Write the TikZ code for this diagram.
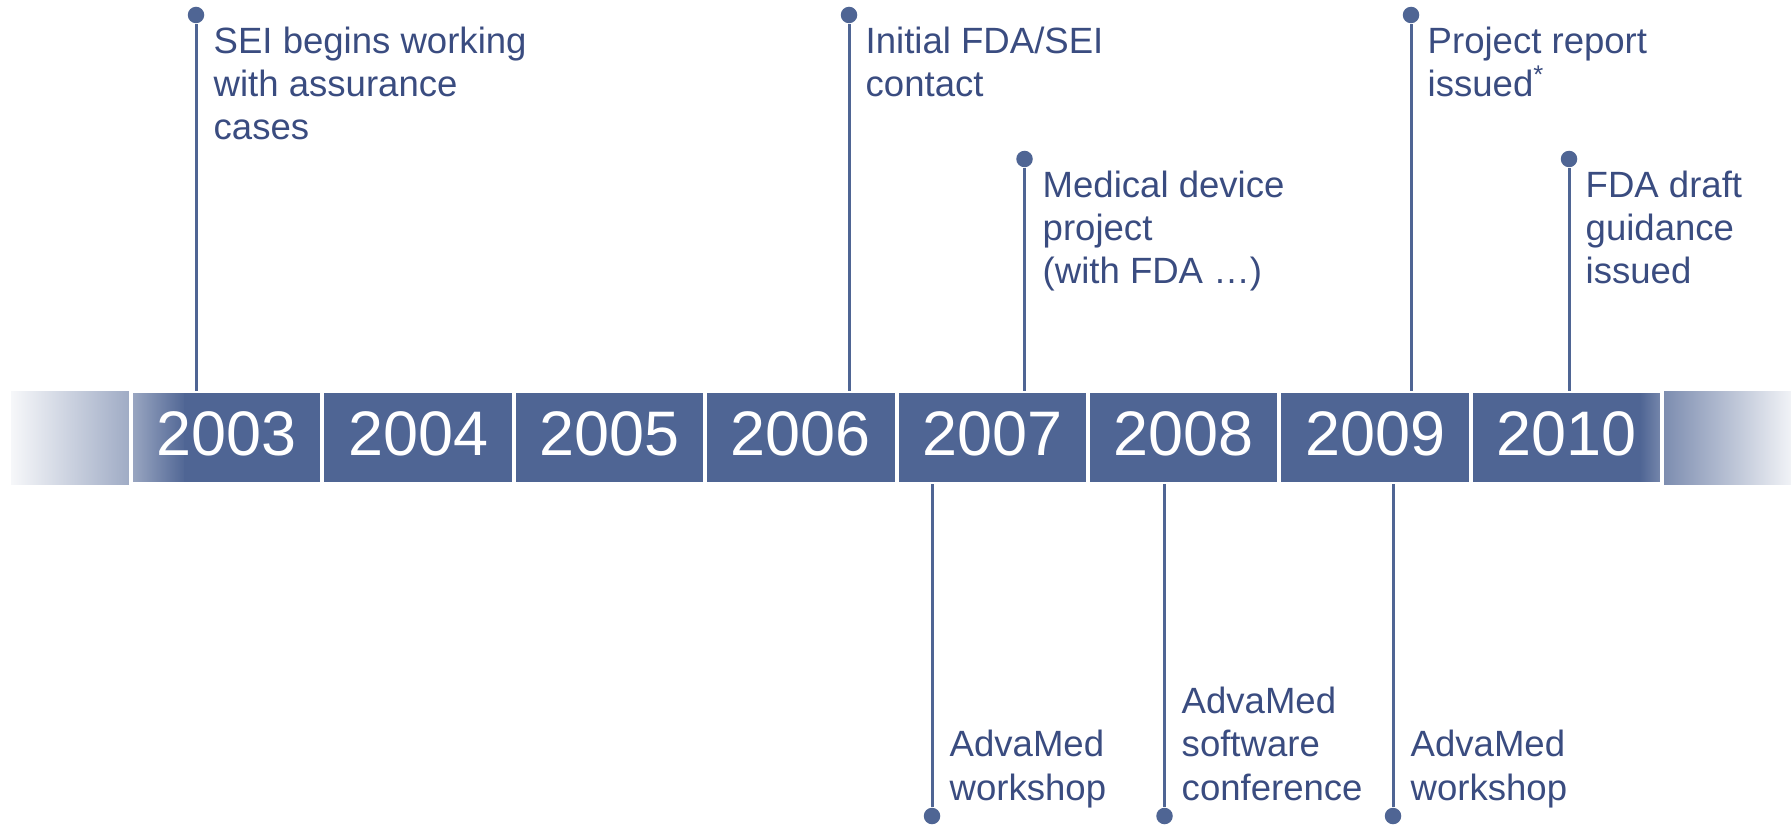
\documentclass[tikz,border=0pt]{standalone}
\usepackage{fontspec}
\setmainfont{Liberation Sans}
\definecolor{tlblue}{RGB}{79,101,148}
\definecolor{tltext}{RGB}{58,76,128}
\tikzset{
  dot/.style={circle, fill=tlblue, inner sep=0pt, minimum size=0.165cm},
  stem/.style={tlblue, line width=0.03cm},
  yearbox/.style={draw=white, line width=0.04cm, minimum width=1.914cm, minimum height=0.93cm,
    inner sep=0pt, outer sep=0pt, text=white, text depth=0.08cm, font=\fontsize{17.9pt}{20pt}\selectfont},
  toplabel/.style={anchor=north west, align=left, inner sep=0pt, text=tltext,
    font=\fontsize{10.4pt}{12.35pt}\selectfont},
  botlabel/.style={toplabel, anchor=base west}
}
\begin{document}
\begin{tikzpicture}
            \useasboundingbox (0,0) rectangle (17.91,8.25);
            % the bar, fading out at both ends
            \shade[left color=tlblue!5, right color=tlblue!55] (0.11,3.41) rectangle (1.31,4.34);
            \shade[left color=tlblue!55, right color=tlblue] (1.29,3.41) rectangle (1.86,4.34);
            \fill[tlblue] (1.84,3.41) rectangle (16.42,4.34);
            \shade[left color=tlblue, right color=tlblue!75] (16.40,3.41) rectangle (16.64,4.34);
            \shade[left color=tlblue!75, right color=tlblue!8] (16.62,3.41) rectangle (17.91,4.34);
            % years
            \node[yearbox] (y2003) at (2.267,3.875) {2003};
            \node[yearbox] (y2004) at (4.181,3.875) {2004};
            \node[yearbox] (y2005) at (6.095,3.875) {2005};
            \node[yearbox] (y2006) at (8.009,3.875) {2006};
            \node[yearbox] (y2007) at (9.923,3.875) {2007};
            \node[yearbox] (y2008) at (11.837,3.875) {2008};
            \node[yearbox] (y2009) at (13.751,3.875) {2009};
            \node[yearbox] (y2010) at (15.665,3.875) {2010};
            % events above the bar
            \node[dot] (e2003) at (1.96,8.10) {};
            \node[dot] (e2006) at (8.49,8.10) {};
            \node[dot] (e2007) at (10.245,6.66) {};
            \node[dot] (e2009) at (14.11,8.10) {};
            \node[dot] (e2010) at (15.69,6.66) {};
            \draw[stem] (e2003) -- (e2003 |- y2003.north);
            \draw[stem] (e2006) -- (e2006 |- y2006.north);
            \draw[stem] (e2007) -- (e2007 |- y2007.north);
            \draw[stem] (e2009) -- (e2009 |- y2009.north);
            \draw[stem] (e2010) -- (e2010 |- y2010.north);
            \node[toplabel] (te2003) at (2.13,7.99) {SEI begins working\\with assurance\\cases};
            \node[toplabel] (te2006) at (8.65,7.99) {Initial FDA/SEI\\contact};
            \node[toplabel] (te2007) at (10.42,6.55) {Medical device\\project\\(with FDA \dots)};
            \node[toplabel] (te2009) at (14.27,7.99) {Project report\\issued\textsuperscript{*}};
            \node[toplabel] (te2010) at (15.85,6.55) {FDA draft\\guidance\\issued};
            % events below the bar
            \node[dot] (w2007) at (9.32,0.09) {};
            \node[dot] (w2008) at (11.645,0.09) {};
            \node[dot] (w2009) at (13.93,0.09) {};
            \draw[stem] (w2007 |- y2007.south) -- (w2007);
            \draw[stem] (w2008 |- y2008.south) -- (w2008);
            \draw[stem] (w2009 |- y2009.south) -- (w2009);
            \node[botlabel] (tw2007) at (9.49,0.25) {AdvaMed\\workshop};
            \node[botlabel] (tw2008) at (11.81,0.25) {AdvaMed\\software\\conference};
            \node[botlabel] (tw2009) at (14.10,0.25) {AdvaMed\\workshop};
\end{tikzpicture}
\end{document}
